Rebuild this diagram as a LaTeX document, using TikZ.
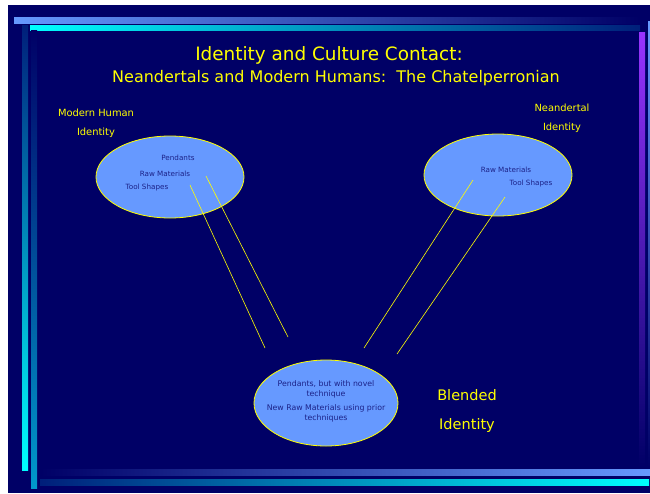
\documentclass[tikz,border=0pt]{standalone}
\usepackage{fontspec}
\setmainfont{DejaVu Sans}
\usetikzlibrary{shapes.geometric}
\definecolor{slide}{HTML}{000066}
\definecolor{paleblue}{HTML}{6699FF}
\definecolor{brightcyan}{HTML}{00FFFF}
\definecolor{steel}{HTML}{0099CC}
\definecolor{violet}{HTML}{9933FF}
\definecolor{ink}{HTML}{1C2288}
\definecolor{gold}{HTML}{FFFF00}

\begin{document}
\begin{tikzpicture}[
    x=1pt, y=-1pt,
    blob/.style={ellipse, draw=gold, fill=paleblue, line width=0.8pt, minimum width=148pt, minimum height=82pt},
    item/.style={text=ink, font=\fontsize{7.2}{8.5}\selectfont, inner sep=0pt},
    caption/.style={text=gold, font=\fontsize{9.9}{11}\selectfont, inner sep=0pt},
    link/.style={draw=gold, line width=0.6pt}
]
\useasboundingbox (0,0) rectangle (650,493);

% Slide background
\fill[white] (0,0) rectangle (650,493);
\fill[slide] (8,5) rectangle (650,493);

% Border bars
\shade[left color=paleblue, right color=slide] (14,17) rectangle (640,23);
\shade[left color=brightcyan, right color=slide!80!steel] (30,25) rectangle (640,30);
\shade[top color=slide!80!steel, bottom color=brightcyan] (22,25) rectangle (28,470);
\shade[top color=slide, bottom color=steel] (31,30) rectangle (37,488);
\shade[left color=slide, right color=paleblue] (41,469) rectangle (650,475);
\shade[left color=slide!80!steel, right color=brightcyan] (40,479) rectangle (649,485);
\shade[top color=violet, bottom color=slide] (639,32) rectangle (645,467);
\shade[top color=paleblue, bottom color=slide] (648,21) rectangle (650,467);

% Title
\node[text=gold, font=\fontsize{18.4}{22}\selectfont] (title) at (329,55) {Identity and Culture Contact:};
\node[text=gold, font=\fontsize{16}{18}\selectfont] (subtitle) at (336,78) {Neandertals and Modern Humans:\ \ The Chatelperronian};

% Modern human side
\node[blob] (modern) at (170,177) {};
\node[item] (mPend) at (178,158) {Pendants};
\node[item] (mRaw) at (165,174) {Raw Materials};
\node[item] (mTool) at (147,188) {Tool Shapes};
\node[caption] (mLabel) at (96,113) {Modern Human};
\node[caption] (mIdent) at (96,133) {Identity};

% Neandertal side
\node[blob] (neander) at (498,175) {};
\node[item] (nRaw) at (506,170) {Raw Materials};
\node[item] (nTool) at (531,184) {Tool Shapes};
\node[caption] (nLabel) at (562,108) {Neandertal};
\node[caption] (nIdent) at (562,128) {Identity};

% Blended result
\node[blob, minimum width=144pt, minimum height=86pt] (blend) at (326,403) {};
\node[item, align=center, font=\fontsize{7.8}{10}\selectfont] (bPend) at (326,389) {Pendants, but with novel\\technique};
\node[item, align=center, font=\fontsize{7.8}{10}\selectfont] (bRaw) at (326,413) {New Raw Materials using prior\\techniques};
\node[text=gold, font=\fontsize{14.5}{16}\selectfont, inner sep=0pt] (bLabel) at (467,395) {Blended};
\node[text=gold, font=\fontsize{14.5}{16}\selectfont, inner sep=0pt] (bIdent) at (467,425) {Identity};

% Contact lines
\coordinate (m1) at (190,185);
\coordinate (m2) at (206,176);
\coordinate (m3) at (265,348);
\coordinate (m4) at (288,337);
\coordinate (n1) at (473,180);
\coordinate (n2) at (505,197);
\coordinate (n3) at (364,348);
\coordinate (n4) at (397,354);
\draw[link] (m1) -- (m3);
\draw[link] (m2) -- (m4);
\draw[link] (n1) -- (n3);
\draw[link] (n2) -- (n4);

\end{tikzpicture}
\end{document}
